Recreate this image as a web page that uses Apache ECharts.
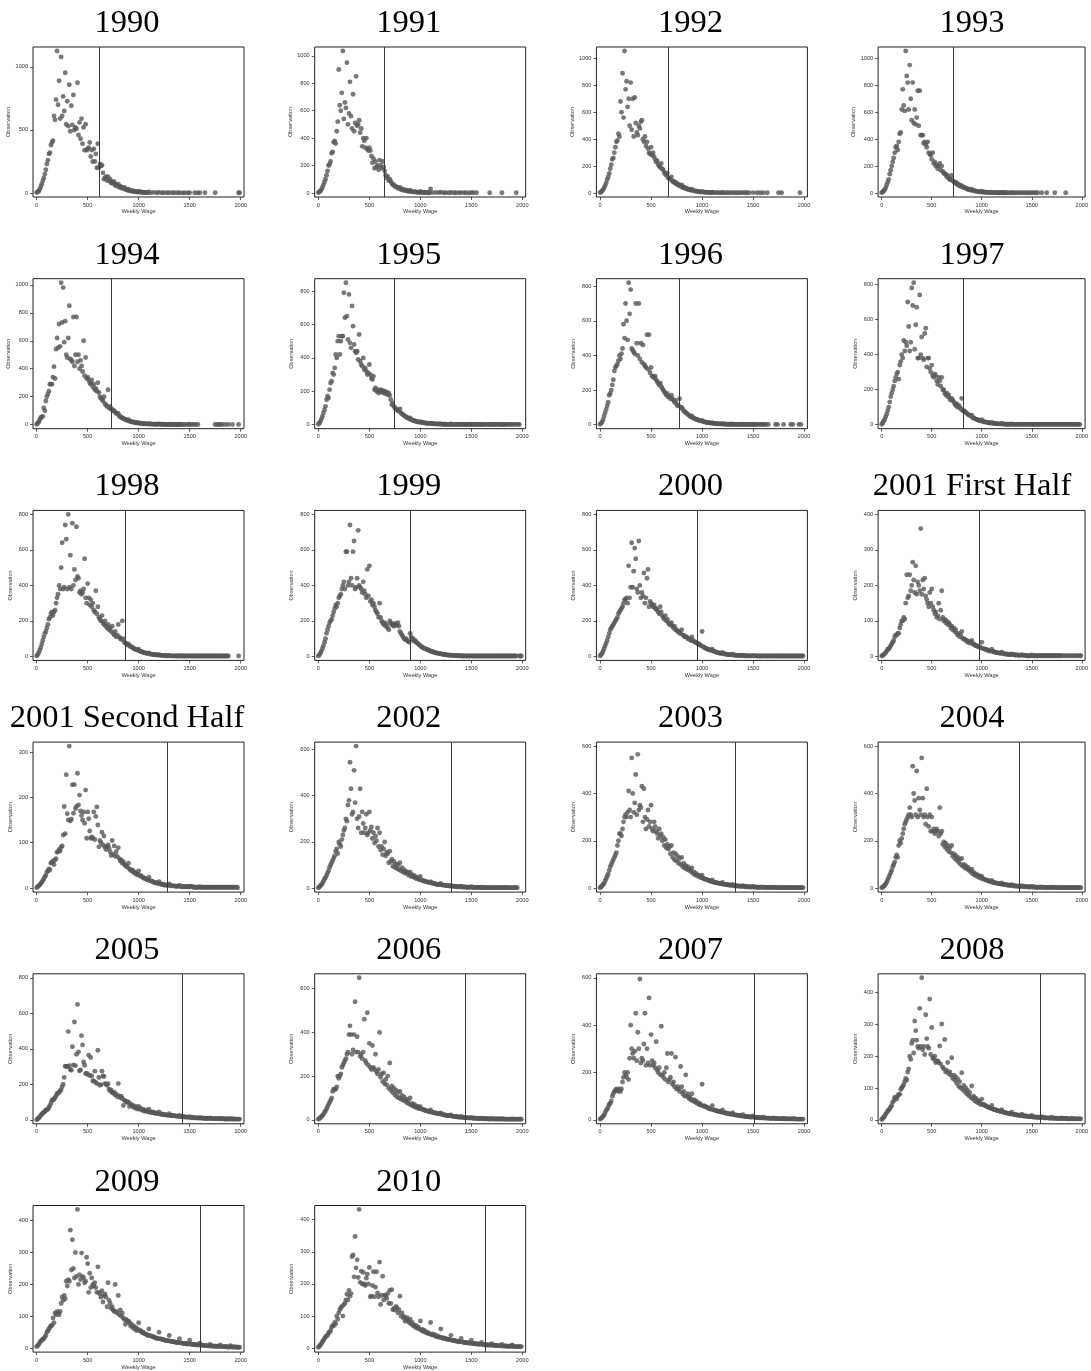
<!DOCTYPE html>
<html>
<head>
<meta charset="utf-8">
<script src="https://cdn.jsdelivr.net/npm/echarts@6/dist/echarts.min.js"></script>
<style>
html,body{margin:0;padding:0;background:#fff;}
#chart{width:1091px;height:1371px;}
</style>
</head>
<body>
<div id="chart"></div>
<script>
// Observations per weekly-wage bin; bin i covers wages 10*i .. 10*i+9. "_" = empty bin.
const _ = null;
const BIN_WIDTH = 10;

const panelTitles = ["1990","1991","1992","1993","1994","1995","1996","1997","1998","1999","2000",
  "2001 First Half","2001 Second Half","2002","2003","2004","2005","2006","2007","2008","2009","2010"];

// wage level marked by the vertical line in each panel
const cutoffs = [610,650,665,720,735,745,780,815,865,900,950,975,1285,1300,1330,1375,1430,1440,1510,1585,1600,1635];

const xTicks = [0,500,1000,1500,2000];
const yTicks = [
  [0,500,1000],
  [0,200,400,600,800,1000],[0,200,400,600,800,1000],[0,200,400,600,800,1000],[0,200,400,600,800,1000],
  [0,200,400,600,800],[0,200,400,600,800],[0,200,400,600,800],[0,200,400,600,800],[0,200,400,600,800],[0,200,400,600,800],
  [0,100,200,300,400],[0,100,200,300],
  [0,200,400,600],[0,200,400,600],[0,200,400,600],[0,200,400,600,800],[0,200,400,600],[0,200,400,600],
  [0,100,200,300,400],[0,100,200,300,400],[0,100,200,300,400]
];

const y1990 = [
5,8,15,30,50,70,95,120,150,185,
230,260,310,320,380,400,415,610,580,740,
1126,700,890,590,1079,610,766,650,953,545,
727,530,858,490,692,540,777,500,520,510,
874,460,560,430,590,390,520,340,545,340,
350,360,400,290,340,250,350,250,310,200,
390,200,230,215,220,160,110,120,130,100,
130,95,110,80,90,75,90,60,70,55,
70,45,55,40,45,35,45,28,30,22,
30,18,20,15,18,12,14,10,10,8,
14,7,8,6,6,5,4,4,3,3,
8,_,3,_,_,5,_,_,2,_,
5,_,_,2,_,3,_,_,2,_,
3,_,_,2,_,2,_,_,2,_,
3,_,_,1,_,2,_,_,1,_,
3,_,_,_,_,2,_,_,1,_,
2,_,_,_,_,2,_,_,_,_,
_,_,_,_,_,2,_,_,_,_,
_,_,_,_,_,_,_,_,_,_,
_,_,_,_,_,_,_,_,2,2];

const y1991 = [
3,8,15,25,40,60,80,100,130,160,
200,210,230,290,300,370,380,360,450,520,
900,640,600,730,1035,540,660,620,950,500,
580,810,560,470,720,450,510,850,490,500,
530,440,470,340,400,380,330,400,320,310,
330,310,270,220,250,180,230,190,200,170,
240,200,180,230,190,160,130,110,120,90,
100,85,70,60,60,50,45,45,35,35,
40,25,30,20,25,18,20,15,15,12,
20,10,10,8,8,10,6,6,5,5,
12,4,5,4,3,5,3,3,2,2,
30,_,3,_,_,4,_,_,3,_,
6,_,_,2,_,3,_,_,2,_,
4,_,_,2,_,2,_,_,2,_,
3,_,_,2,_,2,_,_,1,_,
3,_,2,_,_,2,_,_,_,_,
_,_,_,_,_,_,_,_,2,_,
_,_,_,_,_,_,_,_,_,_,
2,_,_,_,_,_,_,_,_,_,
_,_,_,_,2,_,_,_,_,_];

const y1992 = [
3,8,15,25,40,55,75,100,120,145,
180,210,250,260,300,340,380,390,440,420,
680,600,890,560,1055,770,830,640,700,500,
820,470,700,420,710,520,450,430,500,480,
530,540,400,380,420,350,380,330,300,290,
340,280,300,270,250,230,240,210,200,190,
220,180,170,150,140,130,150,110,110,100,
120,85,90,75,80,65,70,55,60,50,
60,40,45,35,38,30,32,25,25,20,
28,18,18,14,15,12,12,10,9,8,
12,7,7,6,6,5,5,4,4,3,
6,3,3,_,3,3,_,2,_,2,
4,_,2,_,2,_,2,_,2,_,
3,_,2,_,2,_,2,_,2,_,
3,_,2,_,2,_,2,_,_,_,
3,_,_,_,2,_,_,2,_,_,
2,_,_,_,2,_,_,_,_,_,
_,_,_,_,_,2,_,_,2,_,
_,_,_,_,_,_,_,_,_,_,
_,_,_,_,_,_,2,_,_,_];

const y1993 = [
3,8,15,25,40,60,80,100,140,170,
200,230,260,300,340,350,320,380,440,450,
620,770,650,610,1055,870,820,620,950,700,
540,820,520,620,510,560,760,500,760,430,
430,430,370,380,360,340,380,300,290,280,
250,300,220,230,200,210,180,200,220,170,
200,160,150,140,140,120,130,110,100,100,
130,90,85,75,80,65,70,55,60,50,
55,42,45,38,38,30,32,25,25,20,
28,18,18,15,15,12,12,10,10,8,
14,7,8,6,6,5,5,4,4,3,
7,3,3,3,2,3,2,2,2,2,
4,2,2,2,2,2,_,2,_,2,
3,_,2,_,2,_,2,_,2,_,
3,_,2,_,2,_,2,_,2,_,
3,_,2,_,2,_,2,_,_,_,
2,_,_,_,_,2,_,_,_,_,
_,_,_,2,_,_,_,_,_,_,
_,_,_,_,2,_,_,_,_,_,
_,_,_,_,_,_,_,_,_,_];

const y1994 = [
3,10,20,35,50,55,60,120,100,170,
200,220,240,290,290,290,340,415,330,540,
620,550,720,560,1015,730,980,590,740,500,
480,620,850,470,460,450,770,420,500,770,
450,500,400,460,420,380,600,350,480,330,
340,320,300,290,320,270,290,250,260,240,
300,230,200,190,180,170,200,150,140,130,
250,120,130,110,110,100,100,90,80,80,
80,60,60,50,50,45,40,35,35,30,
35,25,25,20,20,18,16,14,13,12,
15,10,10,8,8,7,7,6,6,5,
8,5,5,4,4,4,3,3,3,3,
5,3,3,3,2,3,2,2,2,2,
4,2,2,2,2,2,2,2,2,2,
3,2,2,2,_,2,_,2,_,2,
3,_,2,_,2,_,2,_,2,_,
_,_,_,_,_,_,_,_,_,_,
_,_,_,_,_,2,_,2,_,2,
2,_,2,_,_,2,_,_,2,_,
_,_,2,_,_,_,_,_,2,_];

const y1995 = [
3,10,20,35,50,70,90,110,150,170,
160,210,250,260,310,300,340,420,400,500,
530,420,500,530,530,790,640,850,650,510,
780,490,460,710,590,480,440,430,440,390,
540,380,360,350,400,330,340,320,300,310,
360,300,280,270,290,210,220,200,210,190,
200,210,195,205,190,200,185,195,180,190,
175,150,120,130,110,100,95,90,85,80,
95,70,65,60,55,50,48,42,40,36,
40,30,28,26,24,22,20,18,17,15,
18,14,13,12,11,10,9,9,8,8,
8,7,6,6,5,5,5,4,4,4,
5,3,3,3,3,3,2,2,2,2,
4,2,2,2,2,2,2,2,2,2,
3,2,2,2,2,2,2,2,2,2,
3,2,2,2,2,2,2,2,2,2,
2,2,2,2,2,_,2,2,2,2,
2,2,2,2,2,2,_,2,2,2,
2,2,2,2,2,_,2,2,_,2,
2,_,2,_,2,_,2,2,_,_];

const y1996 = [
3,8,15,30,50,70,90,110,130,170,
180,200,230,260,310,330,340,350,370,400,
380,410,440,580,500,700,600,490,820,640,
780,440,430,420,410,700,470,400,700,380,
470,360,460,350,340,330,520,320,520,300,
330,280,280,270,280,260,250,240,230,240,
220,210,200,190,180,170,180,160,160,150,
170,150,140,130,140,120,110,110,150,100,
100,90,80,75,70,65,60,55,50,45,
50,40,38,35,32,30,28,25,23,22,
25,18,17,15,14,13,12,11,10,9,
12,8,7,7,6,6,5,5,5,4,
6,4,4,3,3,3,3,3,3,2,
4,2,2,2,2,2,2,2,2,2,
3,2,2,2,2,2,2,2,2,2,
3,2,2,2,2,_,2,2,_,2,
2,2,_,2,_,2,_,_,_,_,
_,_,2,_,2,_,_,_,_,_,
2,_,_,_,_,_,_,2,_,2,
_,_,_,_,_,2,_,2,_,_];

const y1997 = [
3,10,20,30,45,60,80,100,130,160,
180,200,220,250,270,290,300,260,340,360,
400,380,480,420,470,450,700,560,420,470,
780,680,810,430,570,670,380,380,740,400,
500,380,370,520,550,330,380,380,320,300,
340,280,270,290,280,250,230,270,250,220,
270,200,200,180,170,180,160,170,150,140,
150,140,130,120,110,120,100,110,100,90,
150,80,80,75,70,65,60,55,55,50,
55,40,38,35,32,30,28,25,23,22,
28,18,17,16,15,14,12,11,10,9,
13,8,8,7,6,6,5,5,5,4,
7,4,4,3,3,3,3,3,3,2,
4,2,2,2,2,2,2,2,2,2,
3,2,2,2,2,2,2,2,2,2,
3,2,2,2,2,2,2,2,2,2,
2,2,2,2,2,2,2,2,2,2,
2,2,2,2,2,2,2,2,2,2,
2,2,2,2,2,2,2,2,2,2,
2,2,2,2,2,2,2,2,2,_];

const y1998 = [
3,10,20,35,50,70,90,110,130,140,
160,180,210,220,240,250,230,250,260,300,
330,350,400,380,500,640,380,390,740,660,
380,800,390,570,380,750,400,490,430,730,
450,440,360,370,350,360,380,550,330,300,
410,330,290,320,280,300,260,250,370,240,
280,220,210,200,230,190,180,200,170,160,
180,150,160,140,170,130,120,140,110,120,
180,110,100,95,200,100,80,75,70,65,
70,60,55,55,50,45,42,40,38,35,
40,30,28,26,24,22,20,19,18,16,
20,14,13,12,11,10,9,9,8,8,
10,7,6,6,5,5,5,4,4,4,
6,3,3,3,3,3,3,2,2,2,
4,2,2,2,2,2,2,2,2,2,
3,2,2,2,2,2,2,2,2,2,
2,2,2,2,2,2,2,2,2,2,
2,2,2,2,2,2,2,2,2,2,
2,2,2,2,2,2,2,2,2,_,
_,_,_,_,_,_,_,_,2,_];

const y1999 = [
3,10,18,30,45,60,80,100,130,150,
170,190,200,210,230,250,270,290,280,300,
330,340,350,380,400,420,380,590,590,400,
420,740,440,400,590,650,380,390,440,710,
400,390,380,360,420,370,350,330,490,340,
510,310,320,290,300,280,260,250,240,220,
300,220,200,190,180,190,170,180,160,150,
200,190,180,175,170,185,180,175,190,170,
140,130,120,110,100,95,100,90,85,80,
130,110,95,100,85,90,80,75,70,65,
60,55,50,48,45,42,40,38,35,33,
30,28,26,24,22,20,19,18,17,16,
15,13,12,11,10,9,8,8,7,7,
7,6,6,5,5,5,4,4,4,4,
4,2,2,2,2,2,2,2,2,2,
3,2,2,2,2,2,2,2,2,2,
2,2,2,2,2,2,2,2,2,2,
2,2,2,2,2,2,2,2,2,2,
2,2,2,2,2,2,2,2,2,2,
2,2,2,2,2,_,_,2,2,2];

const y2000 = [
3,10,18,30,45,60,75,90,110,130,
150,160,170,180,190,200,210,220,240,250,
260,270,280,300,320,320,330,300,510,330,
390,640,390,480,610,550,380,360,650,400,
330,360,340,470,300,330,440,490,280,310,
300,290,280,290,270,270,260,250,240,280,
250,230,220,210,230,200,210,190,180,180,
190,170,160,170,150,150,140,140,130,130,
150,120,120,110,110,110,100,100,95,90,
110,90,85,80,80,75,70,70,65,60,
140,55,50,48,45,42,40,38,36,34,
40,30,28,26,24,22,20,19,18,17,
22,15,14,13,12,11,10,10,9,9,
12,8,7,7,6,6,6,5,5,5,
7,4,4,4,4,3,3,3,3,3,
5,3,3,3,2,2,2,2,2,2,
3,2,2,2,2,2,2,2,2,2,
3,2,2,2,2,2,2,2,2,2,
2,2,2,2,2,2,2,2,2,2,
2,2,2,2,2,2,2,2,2,2];

const y2001a = [
1,3,5,8,10,15,20,20,25,30,
35,40,45,55,60,60,65,65,80,90,
100,100,110,105,150,230,165,170,230,185,
200,265,215,180,255,175,210,200,185,360,
175,215,190,220,170,160,150,140,180,150,
190,140,130,120,125,110,115,150,105,130,
185,110,100,105,95,100,90,95,90,80,
85,75,80,70,75,65,60,65,55,60,
70,50,50,48,45,45,40,42,38,40,
45,35,35,32,30,30,28,28,26,24,
40,22,22,20,20,18,18,16,15,15,
20,14,13,12,11,11,10,10,9,9,
12,8,8,7,7,6,6,6,5,5,
7,5,5,4,4,4,4,3,3,3,
5,3,3,3,3,2,2,2,2,2,
4,2,2,2,2,2,2,2,2,2,
2,2,2,2,2,2,2,2,2,2,
2,2,2,2,2,2,2,2,2,2,
2,_,2,_,2,_,2,_,2,_,
2,_,2,_,2,_,2,_,2,2];

const y2001b = [
1,3,5,7,10,13,17,20,25,28,
35,38,42,40,55,57,60,52,62,65,
79,80,85,82,90,93,117,180,120,250,
164,150,313,148,152,228,165,228,175,180,
253,183,205,170,160,150,168,143,216,110,
168,153,126,110,113,110,168,107,158,179,
139,91,105,100,123,95,115,90,85,92,
95,88,80,72,105,75,93,70,80,70,
89,65,60,62,55,58,52,50,48,46,
55,42,40,38,40,35,33,35,30,30,
38,27,28,25,24,22,22,20,19,18,
24,16,16,15,14,13,12,12,11,10,
14,9,9,8,8,7,7,7,6,6,
9,6,5,5,5,5,4,4,4,4,
6,4,3,3,3,3,3,3,3,3,
4,3,3,3,2,2,2,2,2,2,
3,2,2,2,2,2,2,2,2,2,
2,2,2,2,2,2,2,2,2,2,
2,2,2,2,2,2,2,2,2,2,
2,2,2,2,2,2,2,1,_,_];

const y2002 = [
2,5,10,15,20,30,40,45,55,65,
75,90,100,110,120,130,140,160,170,150,
200,190,180,210,230,250,260,300,290,360,
380,545,430,320,330,510,370,615,300,260,
310,430,240,330,280,240,260,320,230,240,
330,250,265,215,240,195,225,205,260,180,
240,165,180,145,170,200,140,155,150,110,
160,115,125,95,115,90,105,85,100,80,
110,75,88,70,80,65,72,62,68,55,
70,50,58,48,54,44,48,40,44,36,
50,35,33,32,30,30,28,26,25,24,
28,22,21,20,19,18,17,16,15,15,
20,14,13,13,12,11,11,10,10,9,
12,8,8,8,7,7,6,6,6,6,
8,5,5,5,5,4,4,4,4,4,
6,4,3,3,3,3,3,3,3,3,
4,3,3,3,3,2,2,2,2,2,
3,2,2,2,2,2,2,2,2,2,
2,2,2,2,2,2,2,2,2,_,
2,2,2,2,2,2,_,_,_,_];

const y2003 = [
2,5,10,15,20,30,40,50,60,75,
90,100,110,120,130,140,150,180,200,230,
230,220,250,280,300,310,300,320,410,330,
300,550,400,320,360,480,310,565,330,350,
340,430,280,420,300,250,290,330,260,280,
350,250,240,280,260,240,230,210,250,220,
230,200,215,180,205,170,185,165,175,145,
180,130,150,120,145,115,135,105,125,100,
130,90,105,85,95,80,90,75,82,70,
85,62,68,56,62,52,56,48,52,44,
55,42,40,38,36,35,33,32,30,28,
34,26,25,24,23,22,21,20,19,18,
24,16,16,15,15,14,13,13,12,12,
15,10,10,10,9,9,9,8,8,8,
10,7,7,6,6,6,6,5,5,5,
7,5,5,4,4,4,4,4,4,3,
5,3,3,3,3,3,3,3,3,3,
4,3,3,2,2,2,2,2,2,2,
3,2,2,2,2,2,2,2,2,2,
2,2,2,2,2,2,2,2,2,2];

const y2004 = [
2,4,8,12,18,25,35,45,55,65,
75,90,100,110,130,140,130,180,200,190,
210,230,250,270,280,290,300,310,340,310,
300,515,400,370,310,495,300,380,330,310,
550,380,300,310,270,420,300,260,310,240,
300,240,250,230,240,250,240,220,340,230,
240,185,195,175,190,165,180,155,170,150,
180,135,145,125,138,118,130,108,122,100,
125,92,100,86,95,82,88,75,80,68,
80,60,66,55,60,50,56,46,50,42,
50,40,38,36,35,33,32,30,29,27,
32,25,24,23,22,21,20,19,18,17,
22,16,15,15,14,13,13,12,12,11,
14,10,10,9,9,9,8,8,8,7,
10,7,7,6,6,6,6,5,5,5,
7,5,5,4,4,4,4,4,4,3,
5,3,3,3,3,3,3,3,3,3,
4,3,3,3,2,2,2,2,2,2,
3,2,2,2,2,2,2,2,2,2,
2,2,2,2,2,2,2,2,2,2];

const y2005 = [
0,5,10,17,25,32,37,42,47,55,
55,60,69,80,95,110,112,116,125,135,
148,150,155,163,170,187,200,238,302,300,
300,497,305,283,279,412,309,551,305,369,
650,382,276,281,474,422,326,307,260,262,
255,364,250,351,247,219,219,274,210,204,
392,238,195,198,274,247,244,204,200,195,
204,172,163,168,154,150,155,140,145,130,
204,135,125,131,120,81,111,105,103,97,
101,75,90,85,80,70,78,65,72,60,
75,60,65,55,58,50,55,48,52,45,
60,42,45,40,44,38,40,36,38,34,
45,32,34,30,32,28,29,27,28,25,
35,24,25,23,24,22,22,21,20,20,
25,18,18,17,17,16,16,15,15,14,
18,13,13,12,12,12,11,11,10,10,
12,10,10,9,9,9,8,8,8,8,
10,8,7,7,7,7,7,6,6,6,
8,6,6,6,5,5,5,5,5,5,
6,5,5,5,4,4,4,4,4,4];

const y2006 = [
3,6,10,15,20,25,35,40,50,60,
70,80,90,100,130,140,140,140,150,200,
190,200,210,240,250,260,270,280,300,310,
390,430,390,300,320,390,540,310,380,310,
650,290,300,280,310,460,270,260,490,250,
350,240,230,340,240,230,300,220,210,230,
400,195,210,175,215,165,185,160,200,145,
260,135,155,125,145,115,135,105,125,100,
130,95,112,90,105,85,95,78,88,72,
100,68,75,62,70,58,64,54,60,50,
60,50,48,46,45,43,42,40,38,37,
45,35,34,33,32,31,30,29,28,27,
32,25,24,23,22,21,20,19,19,18,
22,17,16,16,15,14,14,13,13,12,
15,11,11,10,10,10,9,9,9,8,
10,8,7,7,7,7,6,6,6,6,
7,5,5,5,5,5,5,4,4,4,
6,4,4,4,4,4,4,4,4,4,
5,4,3,3,3,3,3,3,3,3,
4,3,3,3,3,3,3,3,3,3];

const y2007 = [
3,6,10,15,20,30,40,45,55,65,
70,80,100,110,120,125,130,125,120,130,
120,130,160,180,200,190,180,200,170,260,
400,300,280,260,290,450,250,370,300,595,
240,260,250,320,450,230,300,240,515,230,
360,250,230,240,220,330,210,200,220,190,
395,190,180,200,170,220,280,160,170,180,
280,150,160,140,265,130,140,130,120,225,
140,110,120,100,190,100,110,90,95,85,
110,80,85,75,80,70,72,65,68,62,
150,58,60,55,55,52,50,48,46,45,
60,42,42,40,38,37,36,35,34,33,
42,31,30,29,28,27,26,25,24,23,
30,22,21,20,20,19,18,18,17,16,
22,15,15,14,14,13,13,12,12,12,
16,11,11,10,10,10,9,9,9,8,
11,8,8,7,7,7,7,6,6,6,
8,6,6,5,5,5,5,5,5,4,
7,4,4,4,4,4,4,4,4,4,
5,4,3,3,3,3,3,3,3,3];

const y2008 = [
1,4,8,12,18,22,28,30,35,40,
45,55,60,70,70,65,75,80,80,95,
100,105,110,120,130,125,150,160,200,190,
240,250,210,310,280,250,230,225,350,230,
446,220,230,205,330,255,230,225,379,205,
290,195,190,200,180,185,185,180,232,175,
301,165,160,252,150,155,180,145,150,140,
195,130,140,125,135,115,128,105,120,100,
148,95,108,88,100,82,92,76,85,70,
106,66,74,60,68,56,62,52,58,48,
65,48,48,45,44,42,40,40,38,36,
45,34,33,32,31,30,29,28,27,26,
32,25,24,23,22,21,21,20,19,18,
24,18,17,16,16,15,15,14,14,13,
18,13,12,12,12,11,11,10,10,10,
14,9,9,9,8,8,8,8,7,7,
10,7,7,6,6,6,6,6,5,5,
8,5,5,5,5,5,4,4,4,4,
6,4,4,4,4,4,3,3,3,3,
5,3,3,3,3,3,3,3,3,3];

const y2009 = [
5,8,12,18,22,25,28,30,35,40,
50,55,60,65,70,72,95,80,110,105,
115,110,105,115,140,160,150,165,155,210,
195,215,210,370,245,340,250,220,300,225,
435,200,230,215,298,225,220,205,210,285,
265,175,235,190,220,200,195,205,190,175,
255,175,170,160,180,145,165,170,160,130,
205,150,140,125,130,120,115,200,115,110,
165,105,120,100,110,95,90,75,90,85,
85,80,70,75,65,70,60,65,55,60,
80,55,55,50,50,48,45,45,42,40,
60,40,38,38,36,35,33,32,31,30,
50,30,28,28,27,26,25,24,24,23,
40,22,22,21,20,20,19,18,18,17,
30,17,16,16,15,15,14,14,13,13,
25,13,12,12,12,11,11,11,10,10,
16,10,9,9,9,8,8,8,8,7,
12,7,7,7,6,6,6,6,6,5,
10,5,5,5,5,5,5,4,4,4,
8,4,4,4,4,4,3,3,3,3];

const y2010 = [
3,6,10,15,20,25,30,35,38,40,
48,50,55,65,70,70,80,75,100,90,
110,120,125,130,100,135,140,150,168,150,
180,162,170,285,290,222,348,250,275,220,
432,205,240,200,236,200,195,218,230,200,
251,160,162,195,238,160,190,238,172,160,
268,136,165,224,150,165,162,155,170,140,
180,139,182,120,124,119,130,125,110,120,
162,100,110,95,99,84,90,95,85,80,
90,75,80,70,72,65,70,62,65,60,
85,55,58,52,55,50,48,50,45,45,
80,42,44,40,42,38,36,38,34,35,
60,32,33,30,31,29,28,28,27,26,
40,25,24,24,23,22,22,21,20,20,
30,19,19,18,18,17,17,16,16,15,
25,15,14,14,14,13,13,13,12,12,
18,12,11,11,11,10,10,10,10,9,
14,9,9,9,8,8,8,8,8,7,
12,7,7,7,7,6,6,6,6,6,
10,6,5,5,5,5,5,5,5,5];

const panelCounts = [y1990,y1991,y1992,y1993,y1994,y1995,y1996,y1997,y1998,y1999,y2000,
  y2001a,y2001b,y2002,y2003,y2004,y2005,y2006,y2007,y2008,y2009,y2010];

// ---- layout of the small multiples (4 per row) ----
const COLS = 4;
const BOX_W = 211, BOX_H = 150;
const colLeft = c => 33 + 281.7 * c;
const rowTop = r => 47 + 231.7 * r;
const X_MIN = -36, X_MAX = 2033;
const PAD = 0.028;               // plot-region margin, fraction of the data span

const txt = '#333';
const tiny = 5.6;
const option = {
  animation: false,
  backgroundColor: '#fff',
  title: [], grid: [], xAxis: [], yAxis: [], series: []
};

panelCounts.forEach((counts, i) => {
  const c = i % COLS, r = Math.floor(i / COLS);
  const L = colLeft(c), T = rowTop(r);
  const pts = [];
  counts.forEach((v, k) => { if (v !== null) pts.push([k * BIN_WIDTH, v]); });
  const ticks = yTicks[i];
  const top = Math.max(Math.max(...pts.map(p => p[1])), ticks[ticks.length - 1]);

  option.title.push({
    text: panelTitles[i],
    left: L + 94, top: T - 40, padding: 0,
    textAlign: 'center',
    textStyle: { fontFamily: 'Liberation Serif', fontSize: 32.5, fontWeight: 'normal', color: '#000' }
  });
  option.grid.push({
    left: L, top: T, width: BOX_W, height: BOX_H,
    show: true, borderColor: '#222', borderWidth: 1, backgroundColor: '#fff'
  });
  option.xAxis.push({
    type: 'value', gridIndex: i, min: X_MIN, max: X_MAX,
    name: 'Weekly Wage', nameLocation: 'middle', nameGap: 10,
    nameTextStyle: { fontFamily: 'Liberation Sans', fontSize: tiny, color: txt },
    axisLine: { show: false, onZero: false },
    axisTick: { show: true, length: 3, customValues: xTicks, lineStyle: { color: txt, width: 0.8 } },
    axisLabel: { customValues: xTicks, margin: 5, fontFamily: 'Liberation Sans', fontSize: tiny, color: txt,
                 formatter: v => String(v) },
    splitLine: { show: false }
  });
  option.yAxis.push({
    type: 'value', gridIndex: i, min: -PAD * top, max: top * (1 + PAD),
    name: 'Observation', nameLocation: 'middle', nameGap: 20, nameRotate: 90,
    nameTextStyle: { fontFamily: 'Liberation Sans', fontSize: tiny, color: txt },
    axisLine: { show: false, onZero: false },
    axisTick: { show: true, length: 3, customValues: ticks, lineStyle: { color: txt, width: 0.8 } },
    axisLabel: { customValues: ticks, margin: 5, fontFamily: 'Liberation Sans', fontSize: tiny, color: txt,
                 formatter: v => String(v) },
    splitLine: { show: false }
  });
  option.series.push({
    type: 'scatter', xAxisIndex: i, yAxisIndex: i,
    data: pts, symbolSize: 4.9,
    itemStyle: { color: '#575757' },
    silent: true,
    markLine: {
      silent: true, symbol: ['none', 'none'],
      label: { show: false },
      lineStyle: { color: '#3a3a3a', width: 1, type: 'solid' },
      data: [{ xAxis: cutoffs[i] }]
    }
  });
});

const chart = echarts.init(document.getElementById('chart'), null, { renderer: 'canvas' });
chart.setOption(option);
</script>
</body>
</html>
